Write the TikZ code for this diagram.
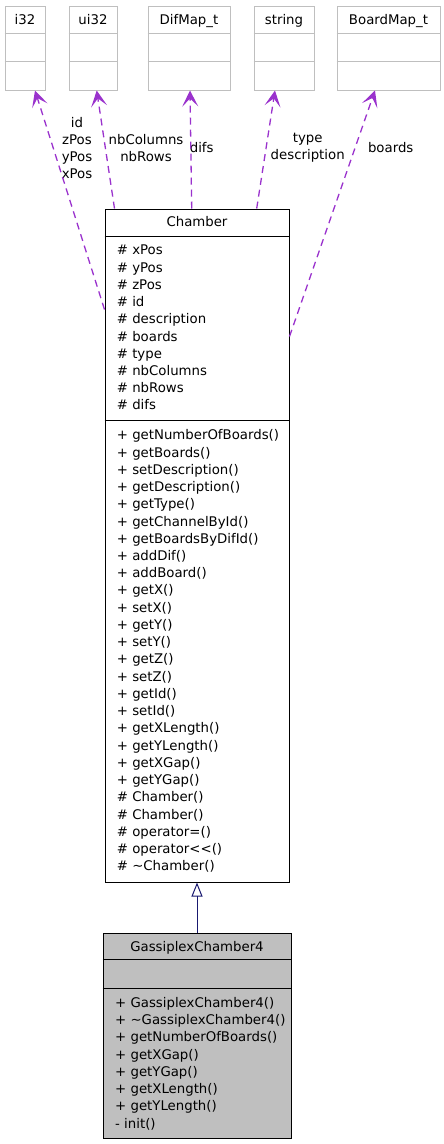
\documentclass[tikz,border=0pt]{standalone}
\usepackage{fontspec}
\setmainfont{DejaVu Sans}
\usetikzlibrary{arrows.meta, positioning}

\definecolor{usecol}{HTML}{9A32CD}
\definecolor{inhcol}{HTML}{191970}
\definecolor{boxgray}{HTML}{BFBFBF}

\begin{document}
\begin{tikzpicture}[x=1pt, y=-1pt,
  every node/.style={font=\fontsize{13.3}{17.2}\selectfont, inner sep=0pt},
  typebox/.style={draw=boxgray, line width=1pt, minimum height=84},
  classbox/.style={draw=black, line width=1pt},
  title/.style={anchor=base},
  member/.style={anchor=base west},
  usage/.style={usecol, line width=1.3pt, dash pattern=on 7pt off 5pt, -{Stealth[length=16pt, width=16pt, inset=8pt]}},
  inherit/.style={inhcol, line width=1pt, {Triangle[open, length=14pt, width=11pt]}-}
]
  \useasboundingbox (0,0) rectangle (444,1144);

  % Type boxes along the top
  \foreach \nm/\lbl/\cx/\bw in {i32/i32/25/40, ui32/ui32/93/48, difmap/DifMap\_t/189/82, str/string/284/60, boardmap/BoardMap\_t/388.5/103} {
    \node[typebox, minimum width=\bw] (\nm) at (\cx,48) {};
    \node[title] (\nm-title) at ([yshift=-19.3pt]\nm.north) {\lbl};
    \draw[boxgray, line width=1pt] ([yshift=-28pt]\nm.north west) -- ([yshift=-28pt]\nm.north east);
    \draw[boxgray, line width=1pt] ([yshift=-56pt]\nm.north west) -- ([yshift=-56pt]\nm.north east);
  }

  % Chamber class
  \node[classbox, minimum width=184, minimum height=673] (chamber) at (197,545.5) {};
  \node[title] (chamber-title) at ([yshift=-17.5pt]chamber.north) {Chamber};
  \draw[line width=1pt] ([yshift=-28pt]chamber.north west) -- ([yshift=-28pt]chamber.north east);
  \draw[line width=1pt] ([yshift=-212pt]chamber.north west) -- ([yshift=-212pt]chamber.north east);
  \foreach \t [count=\i] in {\# xPos, \# yPos, \# zPos, \# id, \# description, \# boards, \# type, \# nbColumns, \# nbRows, \# difs}
    \node[member] (attr-\i) at (116.7, \i*17.24+237.56) {\t};
  \foreach \t [count=\i] in {+ getNumberOfBoards(), + getBoards(), + setDescription(), + getDescription(), + getType(), + getChannelById(), + getBoardsByDifId(), + addDif(), + addBoard(), + getX(), + setX(), + getY(), + setY(), + getZ(), + setZ(), + getId(), + setId(), + getXLength(), + getYLength(), + getXGap(), + getYGap(), \# Chamber(), \# Chamber(), \# operator=(), \# operator<{}<(), \# \textasciitilde Chamber()}
    \node[member] (op-\i) at (116.7, \i*17.24+422.56) {\t};

  % GassiplexChamber4 class
  \node[classbox, fill=boxgray, minimum width=188, minimum height=205] (gassiplex) at (197,1035.5) {};
  \node[title] (gassiplex-title) at ([yshift=-18.8pt]gassiplex.north) {GassiplexChamber4};
  \draw[line width=1pt] ([yshift=-27pt]gassiplex.north west) -- ([yshift=-27pt]gassiplex.north east);
  \draw[line width=1pt] ([yshift=-56pt]gassiplex.north west) -- ([yshift=-56pt]gassiplex.north east);
  \foreach \t [count=\i] in {+ GassiplexChamber4(), + \textasciitilde GassiplexChamber4(), + getNumberOfBoards(), + getXGap(), + getYGap(), + getXLength(), + getYLength(), - init()}
    \node[member] (gop-\i) at (115, \i*17.24+990.26) {\t};

  % usage labels
  \node[align=center] (lbl-i32) at (77,148) {id\\zPos\\yPos\\xPos};
  \node[align=center] (lbl-ui32) at (146,148) {nbColumns\\nbRows};
  \node (lbl-difmap) at (201.7,148) {difs};
  \node[align=center] (lbl-str) at (307.7,148) {type\\description};
  \node (lbl-boardmap) at (390.7,148) {boards};

  % usage arrows
  \draw[usage] ([yshift=-101pt]chamber.north west) -- ([xshift=10pt]i32.south);
  \draw[usage] ([xshift=10pt]chamber.north west) -- ([xshift=3.7pt]ui32.south);
  \draw[usage] ([xshift=-5.3pt]chamber.north) -- ([xshift=1pt]difmap.south);
  \draw[usage] ([xshift=59.7pt]chamber.north) -- ([xshift=-9pt]str.south);
  \draw[usage] ([yshift=-128pt]chamber.north east) -- ([xshift=-13.5pt]boardmap.south);

  % inheritance
  \draw[inherit] (chamber.south) -- (gassiplex.north);
\end{tikzpicture}
\end{document}
